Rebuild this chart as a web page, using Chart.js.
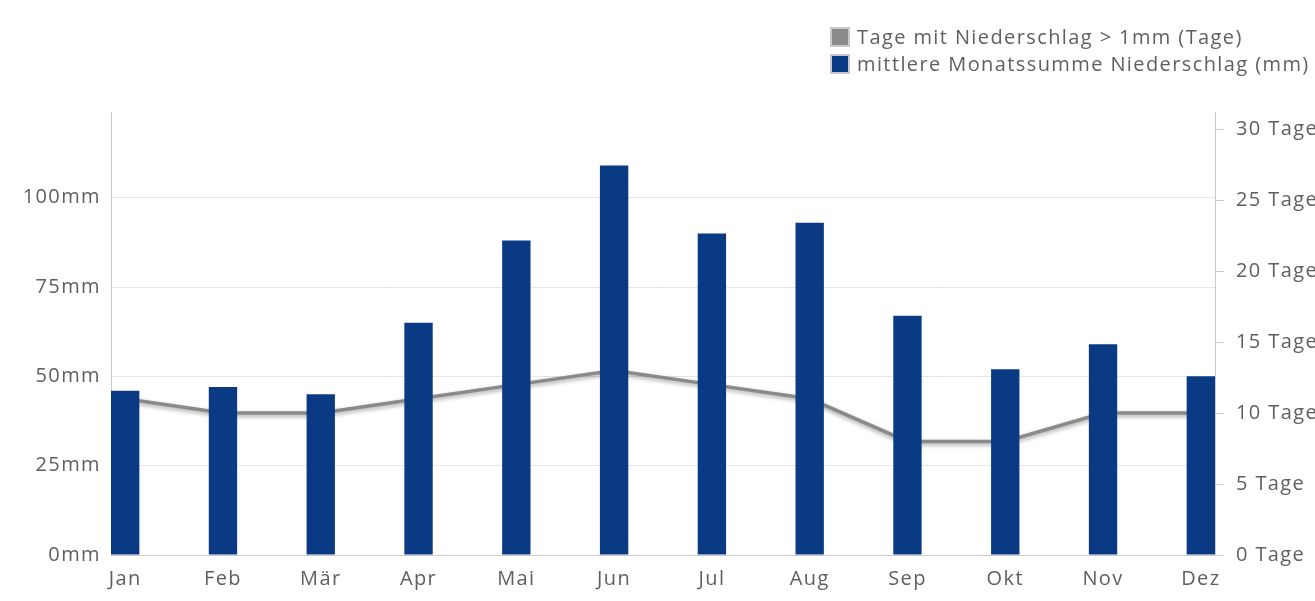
<!DOCTYPE html>
<html lang="de">
<head>
    <meta charset="UTF-8">
    <title>Niederschlag</title>
    <script src="https://cdn.jsdelivr.net/npm/chart.js"></script>
    <style>
        html, body { margin: 0; padding: 0; background: #fff; overflow: hidden; }
        #wrap { position: relative; width: 1315px; height: 601px; }
        #legend {
            position: absolute; left: 830px; top: 23px;
            font-family: 'Open Sans', sans-serif; font-size: 20px; color: #5f5f5f;
            letter-spacing: 1.4px; white-space: nowrap;
        }
        .item { display: flex; align-items: center; height: 27px; }
        .box { width: 20px; height: 20px; border: 2px solid #c8c8c8; box-sizing: border-box; margin-right: 7px; }
    </style>
</head>
<body>
    <div id="wrap">
        <canvas id="rainChart" width="1315" height="601"></canvas>
        <div id="legend"></div>
    </div>

    <script>
        const months = ['Jan', 'Feb', 'Mär', 'Apr', 'Mai', 'Jun', 'Jul', 'Aug', 'Sep', 'Okt', 'Nov', 'Dez'];
        const rainMm = [46, 47, 45, 65, 88, 109, 90, 93, 67, 52, 59, 50];
        const rainDays = [11, 10, 10, 11, 12, 13, 12, 11, 8, 8, 10, 10];

        const daysLabel = 'Tage mit Niederschlag > 1mm (Tage)';
        const mmLabel = 'mittlere Monatssumme Niederschlag (mm)';

        const textColor = '#5f5f5f';
        const font = { family: "'Open Sans'", size: 20 };
        const spacing = '1.4px';

        // letter spacing for all canvas text (canvas resets state on resize)
        const textSpacing = {
            id: 'textSpacing',
            beforeLayout(chart) { chart.ctx.letterSpacing = spacing; },
            beforeDraw(chart) { chart.ctx.letterSpacing = spacing; }
        };

        // soft shadow under the days line
        const lineShadow = {
            id: 'lineShadow',
            beforeDatasetDraw(chart, args) {
                if (chart.data.datasets[args.index].type !== 'line') return;
                const ctx = chart.ctx;
                ctx.save();
                ctx.shadowColor = 'rgba(0,0,0,0.35)';
                ctx.shadowBlur = 4;
                ctx.shadowOffsetY = 2;
            },
            afterDatasetDraw(chart, args) {
                if (chart.data.datasets[args.index].type !== 'line') return;
                chart.ctx.restore();
            }
        };

        const ctx = document.getElementById('rainChart').getContext('2d');
        const rainChart = new Chart(ctx, {
            type: 'bar',
            data: {
                datasets: [{
                    type: 'line',
                    label: daysLabel,
                    data: rainDays.map((v, i) => ({ x: i, y: v })),
                    yAxisID: 'yDays',
                    borderColor: '#8a8a8a',
                    backgroundColor: '#8a8a8a',
                    borderWidth: 3.5,
                    pointRadius: 0,
                    tension: 0,
                    order: 2
                }, {
                    type: 'bar',
                    label: mmLabel,
                    data: rainMm.map((v, i) => ({ x: i, y: v })),
                    yAxisID: 'yMm',
                    backgroundColor: '#0a3a84',
                    barPercentage: 0.29,
                    categoryPercentage: 1,
                    order: 1
                }]
            },
            options: {
                responsive: false,
                animation: false,
                devicePixelRatio: 1,
                layout: { padding: { top: 112, left: 0, right: 0, bottom: 0 } },
                plugins: { legend: { display: false }, tooltip: { enabled: false } },
                scales: {
                    x: {
                        type: 'linear',
                        offset: false,
                        min: -0.145,
                        max: 11.145,
                        afterBuildTicks: s => { s.ticks = months.map((m, i) => ({ value: i })); },
                        ticks: { callback: v => months[v], color: textColor, font: font, padding: 12, maxRotation: 0, autoSkip: false },
                        grid: { display: false, drawTicks: false },
                        border: { color: '#ccc' },
                        afterFit: s => { s.height = 46; }
                    },
                    yMm: {
                        position: 'left',
                        min: 0,
                        max: 124,
                        afterBuildTicks: s => { s.ticks = s.ticks.filter(t => t.value % 25 === 0); },
                        ticks: { stepSize: 25, includeBounds: false, callback: v => v + 'mm', color: textColor, font: font, padding: 10 },
                        grid: { color: '#e6e6e6', drawTicks: false },
                        border: { color: '#ccc' },
                        afterFit: s => { s.width = 111; }
                    },
                    yDays: {
                        position: 'right',
                        min: 0,
                        max: 31.2,
                        afterBuildTicks: s => { s.ticks = s.ticks.filter(t => t.value % 5 === 0); },
                        ticks: { stepSize: 5, includeBounds: false, callback: v => v + ' Tage', color: textColor, font: font, padding: 12 },
                        grid: { drawOnChartArea: false, tickLength: 9, color: '#ccc' },
                        border: { color: '#ccc' },
                        afterFit: s => { s.width = 100; }
                    }
                }
            },
            plugins: [textSpacing, lineShadow]
        });

        // legend as html, built from the datasets
        const legend = document.getElementById('legend');
        rainChart.data.datasets.forEach(ds => {
            const item = document.createElement('div');
            item.className = 'item';
            const box = document.createElement('span');
            box.className = 'box';
            box.style.background = ds.backgroundColor;
            item.appendChild(box);
            item.appendChild(document.createTextNode(ds.label));
            legend.appendChild(item);
        });
    </script>
</body>
</html>
